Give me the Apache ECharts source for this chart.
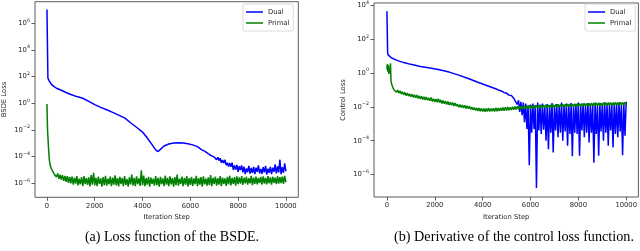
<!DOCTYPE html>
<html>
<head>
<meta charset="utf-8">
<script src="https://cdn.jsdelivr.net/npm/echarts@6/dist/echarts.min.js"></script>
<style>
html,body{margin:0;padding:0;background:#fff;}
#c{width:640px;height:251px;}
</style>
</head>
<body>
<div id="c"></div>
<script>
// ---------------- data ----------------
const LOG_EVERY = 50; // losses recorded every 50 iterations after the first steps

// (a) BSDE loss, Dual
const dualA_headSteps = [0,40,60,100,200,300,400,600,800,1000,1250,1500,1750,2000,2250,2500,2750,3000,3250,3500,3750,4000,4200,4400,4550,4650,4750,4900,5100,5300,5500,5700,5900,6100,6300];
const dualA_headLoss  = [1.1e7,80,63,45,25,18,13.5,9.5,6.5,4.6,3.2,2.4,1.4,0.8,0.5,0.33,0.21,0.13,0.08,0.035,0.016,7e-3,2.5e-3,8e-4,3.2e-4,2.4e-4,3.5e-4,6.3e-4,8.9e-4,1.07e-3,1.12e-3,1.07e-3,9.3e-4,7.6e-4,5.6e-4];
const dualA_tailStart = 6350;
const dualA_tailLoss = [
5.6e-4,4.1e-4,4.2e-4,3.1e-4,3.5e-4,2.6e-4,3.1e-4,1.95e-4,2.0e-4,1.45e-4,
1.8e-4,1.15e-4,1.5e-4,9.3e-5,1.0e-4,5.9e-5,8.9e-5,5.1e-5,7.6e-5,3.5e-5,
5.5e-5,3.4e-5,5.8e-5,2.3e-5,3.5e-5,1.8e-5,3.4e-5,1.7e-5,3.5e-5,1.0e-5,
2.2e-5,1.07e-5,2.4e-5,7.2e-6,1.9e-5,1.0e-5,2.2e-5,6.5e-6,1.8e-5,4.8e-6,
1.3e-5,6.8e-6,2.0e-5,5.2e-6,1.4e-5,6.2e-6,1.7e-5,4.8e-6,1.5e-5,7.2e-6,
2.2e-5,5.6e-6,1.2e-5,5.2e-6,1.6e-5,6.6e-6,2.0e-5,4.5e-6,1.26e-5,6.2e-6,
1.7e-5,4.8e-6,1.5e-5,7.2e-6,2.6e-5,5.6e-6,1.9e-5,6.6e-6,5.9e-5,4.8e-6,
1.6e-5,6.2e-6,3.1e-5,8e-6];

// (a) BSDE loss, Primal
const primalA_headSteps = [0,25,50,75,100,125,150,200,250,300];
const primalA_headLoss  = [0.9,0.01,1.5e-3,2.5e-4,6e-5,3e-5,1.8e-5,1.1e-5,8e-6,5e-6];
const primalA_tailStart = 350;
const primalA_tailLoss = [
6.5e-6,3.0e-6,5.5e-6,2.2e-6,4.4e-6,1.9e-6,4.0e-6,1.5e-6,3.6e-6,1.3e-6,3.4e-6,1.1e-6,3.0e-6,1.0e-6,
3.2e-6,0.8e-6,2.6e-6,0.95e-6,3.4e-6,0.7e-6,2.2e-6,0.85e-6,2.9e-6,0.62e-6,3.5e-6,0.9e-6,2.4e-6,0.75e-6,2.8e-6,0.58e-6,4.2e-6,0.8e-6,6.0e-6,0.7e-6,
2.6e-6,0.62e-6,3.1e-6,0.9e-6,2.3e-6,0.56e-6,2.9e-6,0.74e-6,3.6e-6,0.66e-6,2.2e-6,0.85e-6,3.2e-6,0.6e-6,2.7e-6,0.8e-6,4.0e-6,0.7e-6,2.4e-6,0.58e-6,
3.0e-6,0.9e-6,2.5e-6,0.62e-6,3.4e-6,0.76e-6,2.1e-6,0.55e-6,2.8e-6,0.82e-6,4.6e-6,0.68e-6,2.6e-6,0.6e-6,3.3e-6,0.88e-6,2.3e-6,0.64e-6,9.5e-6,0.72e-6,
3.8e-6,0.6e-6,2.4e-6,0.8e-6,3.1e-6,0.57e-6,2.7e-6,0.92e-6,2.2e-6,0.66e-6,3.5e-6,0.74e-6,2.5e-6,0.55e-6,3.0e-6,0.86e-6,2.3e-6,0.62e-6,3.7e-6,0.78e-6,
2.6e-6,0.6e-6,3.3e-6,0.84e-6,2.4e-6,0.56e-6,2.9e-6,0.72e-6,4.5e-6,0.66e-6,2.2e-6,0.9e-6,3.2e-6,0.6e-6,2.6e-6,0.8e-6,3.5e-6,0.58e-6,2.4e-6,0.76e-6,
3.0e-6,0.64e-6,2.3e-6,0.88e-6,3.6e-6,0.6e-6,2.5e-6,0.78e-6,2.9e-6,0.56e-6,3.3e-6,0.84e-6,2.2e-6,0.66e-6,2.8e-6,0.74e-6,4.2e-6,0.62e-6,2.6e-6,0.9e-6,
3.1e-6,0.68e-6,2.4e-6,0.8e-6,3.4e-6,0.6e-6,2.7e-6,0.9e-6,2.3e-6,0.64e-6,3.0e-6,0.82e-6,3.7e-6,0.7e-6,2.5e-6,0.92e-6,2.9e-6,0.66e-6,3.3e-6,0.86e-6,
2.8e-6,0.95e-6,3.4e-6,0.76e-6,2.6e-6,1.0e-6,3.1e-6,0.8e-6,2.4e-6,0.98e-6,3.6e-6,0.74e-6,2.7e-6,0.9e-6,3.2e-6,0.82e-6,2.5e-6,1.05e-6,3.0e-6,0.78e-6,
3.3e-6,0.96e-6,2.6e-6,0.84e-6,3.5e-6,1.0e-6,2.8e-6,0.8e-6,3.1e-6,1.1e-6,2.7e-6,0.88e-6,3.4e-6,0.95e-6,2.9e-6,1.05e-6,3.2e-6,0.9e-6,3.6e-6,1.2e-6];

// (b) Control loss, Dual
const dualB_headSteps = [0,30,50,100,200,400,700,1000,1400,1800,2200,2600,3000,3400,3800,4200,4600,4800,4900,5000,5100,5200,5250];
const dualB_headLoss  = [4600,16,12,10,7.8,5.9,4.2,3.3,2.5,2.0,1.6,1.15,0.76,0.48,0.29,0.18,0.11,0.085,0.07,0.066,0.05,0.047,0.038];
const dualB_tailStart = 5300;
const dualB_tailLoss = [
3.3e-2,2.4e-2,2.8e-2,1.4e-2,2.5e-2,5e-3,2e-2,3.2e-3,1.8e-2,1.26e-3,1.6e-2,5e-4,1.26e-2,3.5e-6,
1.4e-2,3e-4,1.6e-2,5e-4,1.26e-2,1.6e-7,1.8e-2,4e-4,1.4e-2,2.5e-4,
1.6e-2,4.5e-4,1.1e-2,1e-4,1.5e-2,3.2e-5,1.3e-2,3e-4,1.7e-2,2e-5,
1.2e-2,4e-4,1.5e-2,1.6e-4,1.3e-2,3e-4,1.8e-2,1e-4,1.2e-2,3.5e-4,
1.6e-2,5e-5,1.4e-2,2.5e-4,1.7e-2,1.2e-5,1.3e-2,3e-4,1.5e-2,2.5e-4,
1.8e-2,1.3e-5,1.2e-2,4e-4,1.6e-2,1.6e-4,1.4e-2,3e-4,1.7e-2,8e-5,
1.3e-2,3e-4,1.5e-2,5e-6,1.8e-2,2.5e-4,1.2e-2,1.3e-5,1.6e-2,3.5e-4,
1.4e-2,1e-4,1.9e-2,3e-4,1.3e-2,5e-5,1.6e-2,4e-4,1.4e-2,4e-5,
1.7e-2,2.5e-4,1.5e-2,1.6e-4,1.8e-2,3.5e-4,1.3e-2,1.4e-5,1.6e-2,2e-4,
2e-2];

// (b) Control loss, Primal
const primalB_headSteps = [0,20,40,60,80,100,120,150,170,200,250,300];
const primalB_headLoss  = [1.6,3.5,1.2,3.0,0.9,2.0,1.0,3.8,0.35,0.22,0.14,0.1];
const primalB_tailStart = 350;
const primalB_tailLoss = [
0.115,0.075,0.1,0.066,0.09,0.058,0.08,0.052,0.072,0.047,0.066,0.044,0.06,0.04,
0.056,0.037,0.052,0.035,0.05,0.032,0.046,0.03,0.043,0.028,0.04,0.026,0.038,0.025,0.034,0.023,0.036,0.021,0.03,0.02,
0.029,0.019,0.031,0.018,0.026,0.016,0.024,0.0155,0.022,0.014,0.021,0.013,0.019,0.0125,0.018,0.0115,0.017,0.011,0.0145,0.0095,
0.014,0.0092,0.013,0.0088,0.0125,0.0082,0.0115,0.0078,0.011,0.0072,0.0098,0.0068,0.0092,0.0062,0.0088,0.0058,0.0085,0.0055,0.0082,0.0053,
0.0082,0.0052,0.008,0.0054,0.0085,0.0053,0.0081,0.0055,0.0084,0.0054,0.0088,0.0056,0.0086,0.0058,0.009,0.0059,0.0092,0.006,0.0095,0.0062,
0.0098,0.0063,0.0096,0.0066,0.0102,0.0068,0.0105,0.007,0.0108,0.0072,0.011,0.0074,0.0114,0.0076,0.0112,0.0078,0.0118,0.008,0.012,0.0081,
0.0122,0.0082,0.012,0.0085,0.0126,0.0086,0.0124,0.0088,0.013,0.0087,0.0128,0.009,0.0134,0.0091,0.013,0.0093,0.0136,0.0092,0.0134,0.0095,
0.0138,0.0096,0.0142,0.0097,0.014,0.0099,0.0145,0.01,0.0143,0.0102,0.0148,0.0103,0.0146,0.0105,0.015,0.0106,0.0152,0.0107,0.0155,0.0108,
0.0153,0.011,0.0158,0.0112,0.0162,0.0111,0.016,0.0114,0.0165,0.0115,0.0172,0.0116,0.0168,0.0118,0.017,0.0119,0.0175,0.012,0.0172,0.0121,
0.0176,0.0122,0.0178,0.0124,0.018,0.0125,0.0182,0.0126,0.0178,0.0128,0.0185,0.0129,0.0183,0.013,0.0188,0.0131,0.0186,0.0133,0.019,0.0135];

const xTickValues = [0,2000,4000,6000,8000,10000];
const yTickValuesA = [1e-6,1e-4,1e-2,1,1e2,1e4,1e6];
const yTickValuesB = [1e-6,1e-4,1e-2,1,1e2,1e4];
const seriesNames = ['Dual','Primal'];
const captions = ['(a) Loss function of the BSDE.','(b) Derivative of the control loss function.'];
const yAxisNames = ['BSDE Loss','Control Loss'];
const xAxisName = 'Iteration Step';

// ---------------- build ----------------
function pairs(headSteps, headLoss, tailStart, tailLoss){
  const out = headSteps.map((s,i)=>[s, headLoss[i]]);
  tailLoss.forEach((v,i)=>out.push([tailStart + i*LOG_EVERY, v]));
  return out;
}

const FONT = 'DejaVu Sans';
const TXT = '#262626';
const FS = 6.8;
function logLabel(v){
  const e = Math.round(Math.log10(v));
  return '{b|10}{s|' + (e<0?'−':'') + Math.abs(e) + '}';
}
const richY = {
  b:{fontFamily:FONT,fontSize:FS,color:TXT,lineHeight:11,verticalAlign:'middle'},
  s:{fontFamily:FONT,fontSize:4.8,color:TXT,lineHeight:5,verticalAlign:'top'}
};

function xAxis(idx,min,max){
  return {
    type:'value', gridIndex:idx, min:min, max:max, position:'bottom',
    name:xAxisName, nameLocation:'middle', nameGap:15,
    nameTextStyle:{fontFamily:FONT,fontSize:FS,color:TXT},
    axisLine:{show:false,onZero:false},
    axisTick:{show:true,length:3.5,lineStyle:{color:'#333',width:0.8},customValues:xTickValues},
    axisLabel:{show:true,margin:5,fontFamily:FONT,fontSize:FS,color:TXT,customValues:xTickValues,formatter:v=>String(v),
               showMinLabel:true,showMaxLabel:true,hideOverlap:false},
    splitLine:{show:false}
  };
}
function yAxis(idx,min,max,ticks,name){
  return {
    type:'log', logBase:10, gridIndex:idx, min:min, max:max, position:'left',
    name:name, nameLocation:'middle', nameGap:27, nameRotate:90,
    nameTextStyle:{fontFamily:FONT,fontSize:FS,color:TXT},
    axisLine:{show:false,onZero:false},
    axisTick:{show:true,length:3.5,lineStyle:{color:'#333',width:0.8},customValues:ticks},
    axisLabel:{show:true,margin:5,customValues:ticks,formatter:logLabel,rich:richY,
               showMinLabel:true,showMaxLabel:true,hideOverlap:false},
    splitLine:{show:false}, minorTick:{show:false}, minorSplitLine:{show:false}
  };
}
function legend(left){
  return {
    data:seriesNames, orient:'vertical', left:left, top:4,
    padding:[4,4,4,3], itemGap:3, itemWidth:17, itemHeight:1.5, itemTextGap:5,
    icon:'rect',
    borderColor:'#d0d0d0', borderWidth:0.8, borderRadius:2, backgroundColor:'#fff',
    textStyle:{fontFamily:FONT,fontSize:FS,color:TXT,lineHeight:8},
    selectedMode:false
  };
}
function line(name,color,xi,data){
  return {
    type:'line', name:name, xAxisIndex:xi, yAxisIndex:xi, data:data,
    showSymbol:false, symbol:'none', animation:false,
    lineStyle:{color:color,width:1.5}, itemStyle:{color:color}
  };
}

const chart = echarts.init(document.getElementById('c'), null, {renderer:'canvas'});
chart.setOption({
  animation:false,
  backgroundColor:'#fff',
  grid:[
    {left:33.3, top:1.7, width:265, height:195.6, show:true, borderColor:'#333', borderWidth:0.8, backgroundColor:'transparent'},
    {left:374, top:1, width:265, height:196, show:true, borderColor:'#333', borderWidth:0.8, backgroundColor:'transparent'}
  ],
  xAxis:[xAxis(0,-500,10520), xAxis(1,-540,10510)],
  yAxis:[yAxis(0,8.9e-8,4.2e7,yTickValuesA,yAxisNames[0]), yAxis(1,4.7e-8,1.41e4,yTickValuesB,yAxisNames[1])],
  legend:[legend(243), legend(585)],
  series:[
    line(seriesNames[0],'#0000ff',0,pairs(dualA_headSteps,dualA_headLoss,dualA_tailStart,dualA_tailLoss)),
    line(seriesNames[1],'#008000',0,pairs(primalA_headSteps,primalA_headLoss,primalA_tailStart,primalA_tailLoss)),
    line(seriesNames[0],'#0000ff',1,pairs(dualB_headSteps,dualB_headLoss,dualB_tailStart,dualB_tailLoss)),
    line(seriesNames[1],'#008000',1,pairs(primalB_headSteps,primalB_headLoss,primalB_tailStart,primalB_tailLoss))
  ],
  graphic:[
    {type:'text', x:172, y:237, style:{text:captions[0], fontFamily:'Liberation Serif', fontSize:14, fill:'#000', textAlign:'center', textVerticalAlign:'middle'}},
    {type:'text', x:514, y:237, style:{text:captions[1], fontFamily:'Liberation Serif', fontSize:14.2, fill:'#000', textAlign:'center', textVerticalAlign:'middle'}}
  ]
});
</script>
</body>
</html>
